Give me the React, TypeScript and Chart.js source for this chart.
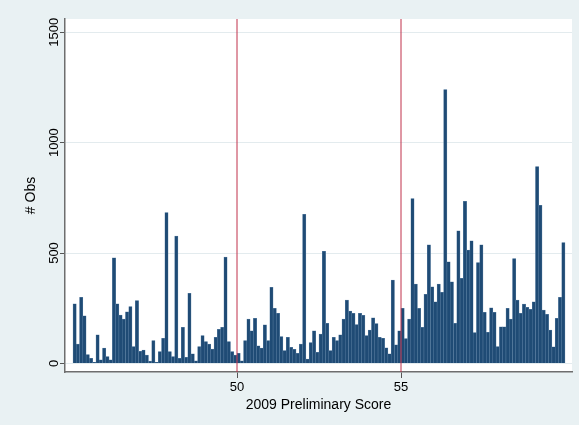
import React, { useEffect, useRef } from 'react';
import { Chart, registerables } from 'chart.js';

Chart.register(...registerables);

// Counts per 0.1-wide bin of the 2009 preliminary score, grouped by integer part
const counts45 = [270, 88, 299, 215, 40, 23, 5, 129, 16, 69];
const counts46 = [31, 16, 478, 270, 219, 201, 234, 257, 76, 284];
const counts47 = [55, 60, 38, 11, 103, 5, 53, 114, 683, 53];
const counts48 = [31, 577, 23, 163, 27, 317, 43, 12, 76, 126];
const counts49 = [99, 88, 65, 118, 154, 163, 482, 99, 53, 38];
const counts50 = [46, 12, 103, 201, 147, 204, 79, 69, 175, 103];
const counts51 = [344, 249, 227, 121, 58, 118, 73, 64, 46, 88];
const counts52 = [675, 19, 94, 147, 50, 133, 508, 181, 58, 118];
const counts53 = [103, 129, 201, 287, 237, 227, 176, 227, 218, 126];
const counts54 = [151, 206, 180, 118, 114, 70, 43, 377, 84, 147];
const counts55 = [249, 112, 201, 746, 359, 249, 163, 313, 537, 347];
const counts56 = [279, 359, 322, 1240, 460, 370, 182, 600, 385, 734];
const counts57 = [513, 555, 140, 457, 537, 231, 141, 252, 231, 76];
const counts58 = [166, 166, 249, 201, 475, 287, 227, 269, 254, 245];
const counts59 = [279, 892, 716, 242, 222, 151, 75, 204, 299, 547];

const scoreGroups: [number, number[]][] = [
  [45, counts45], [46, counts46], [47, counts47], [48, counts48], [49, counts49],
  [50, counts50], [51, counts51], [52, counts52], [53, counts53], [54, counts54],
  [55, counts55], [56, counts56], [57, counts57], [58, counts58], [59, counts59],
];
const binWidth = 0.1;

const cutoffs = [50, 55];
const xTickValues = [50, 55];
const yTickValues = [0, 500, 1000, 1500];

const X_MIN = 44.756;
const X_MAX = 60.213;
const Y_MIN = -39;
const Y_MAX = 1560;

const FONT = 'Liberation Sans, Arial, Helvetica, sans-serif';
const OUTER_BG = '#e9f1f3';

export default function App() {
  const ref = useRef<HTMLCanvasElement | null>(null);

  useEffect(() => {
    document.body.style.margin = '0';
    const canvas = ref.current;
    if (!canvas) return;

    const bins: { x: number; y: number }[] = [];
    scoreGroups.forEach(([base, arr]) => {
      arr.forEach((v, j) => {
        bins.push({ x: base + j * binWidth + binWidth / 2, y: v });
      });
    });

    const bgPlugin = {
      id: 'bgPlugin',
      beforeDraw(chart: any) {
        const { ctx, chartArea, width, height } = chart;
        ctx.save();
        ctx.fillStyle = OUTER_BG;
        ctx.fillRect(0, 0, width, height);
        ctx.fillStyle = '#ffffff';
        ctx.fillRect(chartArea.left, chartArea.top, chartArea.right - chartArea.left, chartArea.bottom - chartArea.top);
        ctx.restore();
      },
    };

    const chart = new Chart(canvas, {
      type: 'bar',
      data: {
        datasets: [
          {
            type: 'bar',
            data: bins as any,
            backgroundColor: '#1f4b75',
            borderColor: '#5f83a6',
            borderWidth: 0.5,
            barPercentage: 1,
            categoryPercentage: 1,
            order: 2,
          } as any,
          ...cutoffs.map((c) => ({
            type: 'line',
            data: [{ x: c, y: Y_MIN }, { x: c, y: Y_MAX }],
            borderColor: '#c0304a',
            borderWidth: 1,
            pointRadius: 0,
            fill: false,
            order: 1,
          })) as any,
        ],
      },
      options: {
        animation: false,
        responsive: false,
        events: [],
        layout: { padding: { left: 0, top: 19, right: 7, bottom: 0 } },
        plugins: { legend: { display: false }, tooltip: { enabled: false } },
        scales: {
          x: {
            type: 'linear',
            min: X_MIN,
            max: X_MAX,
            offset: false,
            afterBuildTicks: (s: any) => {
              s.ticks = xTickValues.map((v) => ({ value: v }));
            },
            afterFit: (s: any) => {
              s.height = 53;
            },
            ticks: {
              autoSkip: false,
              maxRotation: 0,
              minRotation: 0,
              padding: 2,
              color: '#000',
              font: { family: FONT, size: 13 },
              callback: (v: any) => String(v),
            },
            grid: { offset: false, drawOnChartArea: false, tickLength: 6, tickColor: '#555', tickWidth: 1 },
            border: { color: '#6e6e6e', width: 1.5 },
            title: {
              display: true,
              text: '2009 Preliminary Score',
              color: '#000',
              font: { family: FONT, size: 14 },
              padding: { top: 0, bottom: 11 },
            },
          },
          y: {
            type: 'linear',
            min: Y_MIN,
            max: Y_MAX,
            afterBuildTicks: (s: any) => {
              s.ticks = yTickValues.map((v) => ({ value: v }));
            },
            afterFit: (s: any) => {
              s.width = 65;
            },
            ticks: {
              minRotation: 90,
              maxRotation: 90,
              crossAlign: 'center',
              padding: -9,
              color: '#000',
              font: { family: FONT, size: 13 },
              callback: (v: any) => String(v),
            },
            grid: { color: '#e3ebee', tickLength: 5, tickColor: '#555', tickWidth: 1 },
            border: { color: '#6e6e6e', width: 1.5 },
            title: {
              display: true,
              text: '# Obs',
              color: '#000',
              font: { family: FONT, size: 14 },
              padding: { top: 23, bottom: 0 },
            },
          },
        },
      },
      plugins: [bgPlugin],
    } as any);

    return () => chart.destroy();
  }, []);

  return (
    <div style={{ width: 579, height: 425, background: OUTER_BG }}>
      <canvas ref={ref} width={579} height={425} style={{ display: 'block' }} />
    </div>
  );
}
